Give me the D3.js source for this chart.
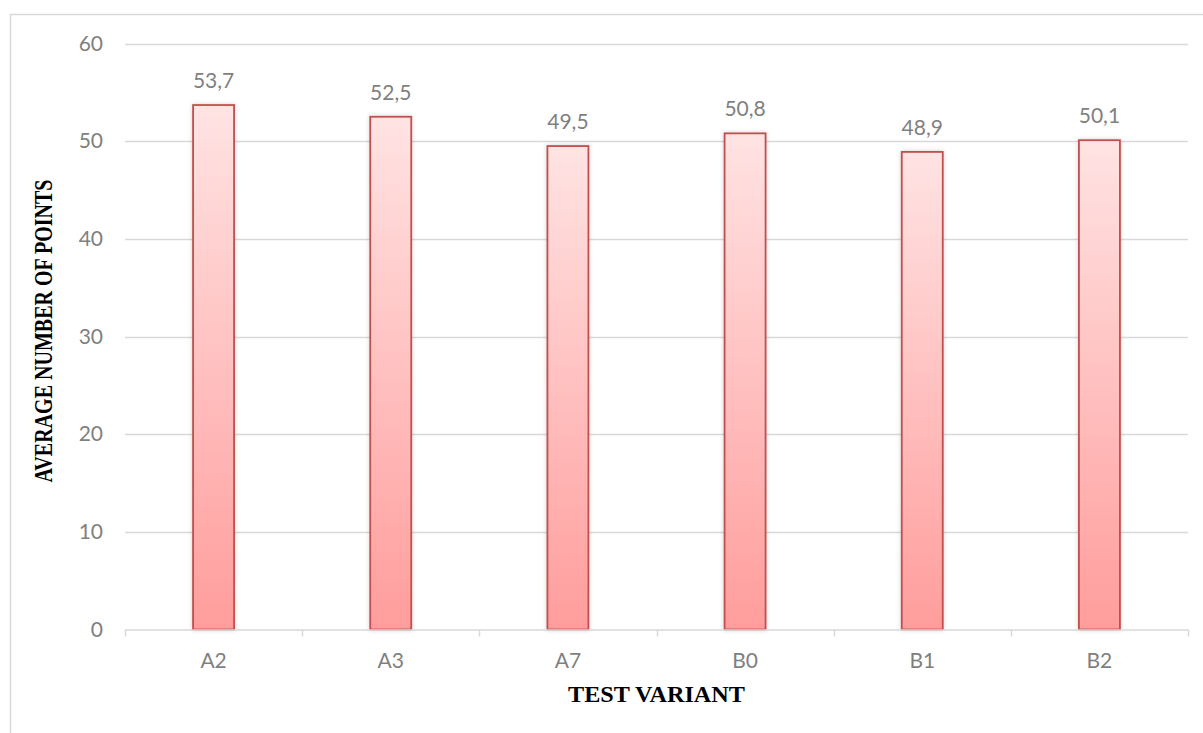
<!DOCTYPE html>
<html>
<head>
<meta charset="utf-8">
<script src="https://cdn.jsdelivr.net/npm/d3@7"></script>
<style>
  html, body { margin: 0; padding: 0; background: #fff; }
  svg { display: block; }
</style>
</head>
<body>
<svg id="chart" width="1203" height="733"></svg>
<script>
// Average number of points per test variant
const variants = ["A2", "A3", "A7", "B0", "B1", "B2"];
const avgPoints = [53.7, 52.5, 49.5, 50.8, 48.9, 50.1];
const yTicks = [0, 10, 20, 30, 40, 50, 60];

const svg = d3.select("#chart");
const W = 1203, H = 733;
const plot = { left: 125, right: 1188, top: 43.5, bottom: 629.5 };

const labelFont = "Lato, 'Open Sans', sans-serif";
const titleFont = "'Liberation Serif', 'Times New Roman', serif";
const gridColor = "#d9d9d9";
const textGray = "#7f7f7f";

// outer chart frame
svg.append("rect")
  .attr("x", 10.5).attr("y", 14.5)
  .attr("width", W).attr("height", H)
  .attr("fill", "none").attr("stroke", gridColor).attr("stroke-width", 1.5);

const x = d3.scaleBand().domain(variants).range([plot.left, plot.right]).padding(0);
const y = d3.scaleLinear().domain([0, 60]).range([plot.bottom, plot.top]);

const defs = svg.append("defs");
const grad = defs.append("linearGradient")
  .attr("id", "barFill").attr("x1", 0).attr("y1", 0).attr("x2", 0).attr("y2", 1);
grad.append("stop").attr("offset", "0%").attr("stop-color", "#ffe3e3");
grad.append("stop").attr("offset", "100%").attr("stop-color", "#ff9d9c");

const shadow = defs.append("filter").attr("id", "barShadow")
  .attr("x", "-30%").attr("y", "-10%").attr("width", "160%").attr("height", "120%");
shadow.append("feDropShadow")
  .attr("dx", 0).attr("dy", 0).attr("stdDeviation", 2)
  .attr("flood-color", "#000").attr("flood-opacity", 0.18);

// horizontal gridlines
svg.append("g")
  .selectAll("line")
  .data(yTicks.filter(t => t > 0))
  .join("line")
  .attr("x1", plot.left).attr("x2", plot.right)
  .attr("y1", d => Math.round(y(d)) + 0.5).attr("y2", d => Math.round(y(d)) + 0.5)
  .attr("stroke", gridColor).attr("stroke-width", 1.5);

// y axis labels
const yAxis = d3.axisLeft(y).tickValues(yTicks).tickSize(0).tickPadding(22);
svg.append("g")
  .attr("transform", `translate(${plot.left},0)`)
  .call(yAxis)
  .call(g => g.select(".domain").remove())
  .call(g => g.selectAll("text")
    .attr("font-family", labelFont).attr("font-size", 21)
    .attr("fill", textGray));

// bars
const barW = 41;
svg.append("g")
  .selectAll("rect")
  .data(variants.map((v, i) => ({ v, val: avgPoints[i] })))
  .join("rect")
  .attr("x", d => x(d.v) + x.bandwidth() / 2 - barW / 2)
  .attr("y", d => y(d.val))
  .attr("width", barW)
  .attr("height", d => y(0) - y(d.val))
  .attr("fill", "url(#barFill)")
  .attr("stroke", "#c0504d").attr("stroke-width", 1.8)
  .attr("filter", "url(#barShadow)");

// x axis baseline with boundary ticks
const bounds = variants.map(v => x(v)).concat([plot.right]);
const xa = svg.append("g");
xa.append("line")
  .attr("x1", plot.left).attr("x2", plot.right)
  .attr("y1", y(0) + 0.5).attr("y2", y(0) + 0.5)
  .attr("stroke", gridColor).attr("stroke-width", 1.5);
xa.selectAll("line.tick")
  .data(bounds)
  .join("line")
  .attr("class", "tick")
  .attr("x1", d => Math.round(d) + 0.5).attr("x2", d => Math.round(d) + 0.5)
  .attr("y1", y(0)).attr("y2", y(0) + 7)
  .attr("stroke", gridColor).attr("stroke-width", 1.5);

// category labels
const xAxis = d3.axisBottom(x).tickSize(0).tickPadding(24);
svg.append("g")
  .attr("transform", `translate(0,${plot.bottom})`)
  .call(xAxis)
  .call(g => g.select(".domain").remove())
  .call(g => g.selectAll("text")
    .attr("font-family", labelFont).attr("font-size", 21)
    .attr("fill", textGray));

// value labels above bars
const fmt = v => v.toFixed(1).replace(".", ",");
svg.append("g")
  .selectAll("text")
  .data(variants.map((v, i) => ({ v, val: avgPoints[i] })))
  .join("text")
  .attr("x", d => x(d.v) + x.bandwidth() / 2)
  .attr("y", d => y(d.val) - 17)
  .attr("text-anchor", "middle")
  .attr("font-family", labelFont).attr("font-size", 21)
  .attr("fill", textGray)
  .text(d => fmt(d.val));

// axis titles
svg.append("text")
  .attr("x", (plot.left + plot.right) / 2)
  .attr("y", 702)
  .attr("text-anchor", "middle")
  .attr("font-family", titleFont).attr("font-weight", "bold")
  .attr("font-size", 24).attr("fill", "#000")
  .attr("textLength", 177).attr("lengthAdjust", "spacingAndGlyphs")
  .text("TEST VARIANT");

svg.append("text")
  .attr("transform", "translate(52,331) rotate(-90)")
  .attr("text-anchor", "middle")
  .attr("font-family", titleFont).attr("font-weight", "bold")
  .attr("font-size", 25).attr("fill", "#000")
  .attr("textLength", 303).attr("lengthAdjust", "spacingAndGlyphs")
  .text("AVERAGE NUMBER OF POINTS");
</script>
</body>
</html>
